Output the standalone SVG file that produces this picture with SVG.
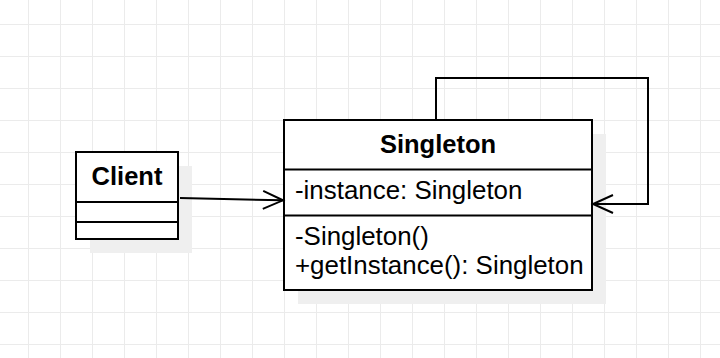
<svg xmlns="http://www.w3.org/2000/svg" width="720" height="358" viewBox="0 0 720 358">
  <defs>
    <pattern id="grid" x="28" y="24" width="32" height="32" patternUnits="userSpaceOnUse">
      <path d="M0 0H32M0 0V32" fill="none" stroke="#ebebeb" stroke-width="2"/>
    </pattern>
    <marker id="open" markerWidth="24" markerHeight="22" refX="21" refY="11" orient="auto" markerUnits="userSpaceOnUse">
      <path d="M1 2L21 11L1 20" fill="none" stroke="#000" stroke-width="2"/>
    </marker>
  </defs>
  <style>
    .box { fill: #fff; stroke: #000; stroke-width: 2; }
    .shadow { fill: #efefef; }
    .sep { stroke: #000; stroke-width: 2; }
    .title { font-family: "Liberation Sans", Arial, sans-serif; font-weight: bold; font-size: 25.5px; text-anchor: middle; fill: #000; }
    .member { font-family: "Liberation Sans", Arial, sans-serif; font-size: 25.9px; fill: #000; }
    .edge { fill: none; stroke: #000; stroke-width: 2; marker-end: url(#open); }
  </style>

  <rect width="720" height="358" fill="#fff"/>
  <rect width="720" height="358" fill="url(#grid)"/>

  <g id="client">
    <rect class="shadow" x="90" y="166" width="102" height="87"/>
    <rect class="box" x="76" y="152" width="102" height="87"/>
    <line class="sep" x1="76" y1="202" x2="178" y2="202"/>
    <line class="sep" x1="76" y1="222" x2="178" y2="222"/>
    <text class="title" x="127" y="185">Client</text>
  </g>

  <g id="singleton">
    <rect class="shadow" x="298" y="134" width="308" height="170"/>
    <rect class="box" x="284" y="120" width="308" height="170"/>
    <line class="sep" x1="284" y1="169.5" x2="592" y2="169.5"/>
    <line class="sep" x1="284" y1="215.5" x2="592" y2="215.5"/>
    <text class="title" x="438" y="153">Singleton</text>
    <text class="member" x="295" y="198.5">-instance: Singleton</text>
    <text class="member" x="295" y="245">-Singleton()</text>
    <text class="member" x="295" y="274">+getInstance(): Singleton</text>
  </g>

  <g id="connectors">
    <path class="edge" d="M180 198L283 200.3"/>
    <path class="edge" d="M436 120V78H648V204H593"/>
  </g>
</svg>
